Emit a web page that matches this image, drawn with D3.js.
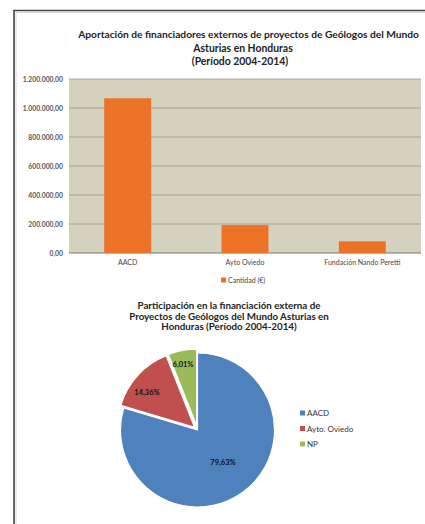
<!DOCTYPE html>
<html><head><meta charset="utf-8">
<script src="https://cdn.jsdelivr.net/npm/d3@7"></script>
<style>body{margin:0;background:#fff}svg{display:block}text{font-family:Lato,"Open Sans",sans-serif}</style>
</head><body>
<svg id="c" width="425" height="524"></svg>
<script>
const barCategories = ["AACD", "Ayto Oviedo", "Fundación Nando Peretti"];
const barValues = [1067000, 192400, 80500];
const yTicks = [0, 200000, 400000, 600000, 800000, 1000000, 1200000];
const yTickLabels = ["0,00","200.000,00","400.000,00","600.000,00","800.000,00","1.000.000,00","1.200.000,00"];
const barTitle = ["Aportación de financiadores externos de proyectos de Geólogos del Mundo","Asturias en Honduras","(Período 2004-2014)"];
const barLegend = "Cantidad (€)";
const pieCategories = ["AACD", "Ayto. Oviedo", "NP"];
const pieValues = [79.63, 14.36, 6.01];
const pieLabels = ["79,63%", "14,36%", "6,01%"];
const pieTitle = ["Participación en la financiación externa de","Proyectos de Geólogos del Mundo Asturias en","Honduras (Período 2004-2014)"];
const pieColors = ["#4F81BD", "#C0504D", "#9BBB59"];

const svg = d3.select("#c");
// frame
svg.append("path").attr("d","M14,524V10.5H425").attr("fill","none").attr("stroke","#444").attr("stroke-width",1.6);
svg.append("path").attr("d","M16,524V12.5H425").attr("fill","none").attr("stroke","#ccc").attr("stroke-width",0.8);

function sizeFor(text, target, weight){
  const p = svg.append("text").attr("font-size",10).attr("font-weight",weight).text(text);
  const w = p.node().getComputedTextLength(); p.remove();
  return 10 * target / w;
}

// bar title
const btY = [38, 51.5, 64.5];
const btX = [248.5, 243, 240];
const btSize = sizeFor(barTitle[0], 341, "bold");
barTitle.forEach((t,i)=>{
  svg.append("text").attr("x",btX[i]).attr("y",btY[i]).attr("text-anchor","middle")
    .attr("font-size", i ? btSize*1.02 : btSize).attr("font-weight","bold").attr("fill","#222").text(t);
});

// bar chart
const x = d3.scaleBand().domain(barCategories).range([69,421]).padding(0);
const y = d3.scaleLinear().domain([0,1200000]).range([253,79]);
const g = svg.append("g");
g.append("rect").attr("x",69).attr("y",y(1200000)).attr("width",352).attr("height",y(0)-y(1200000)).attr("fill","#D5D1BF");
g.selectAll("line.grid").data(yTicks.slice(1)).join("line").attr("class","grid")
  .attr("x1",69).attr("x2",421).attr("y1",d=>y(d)).attr("y2",d=>y(d)).attr("stroke","#9a978b").attr("stroke-width",0.8);
g.append("line").attr("x1",69).attr("x2",421).attr("y1",y(0)).attr("y2",y(0)).attr("stroke","#777").attr("stroke-width",1);
const bw = x.bandwidth()*0.4;
g.selectAll("rect.bar").data(barValues).join("rect").attr("class","bar")
  .attr("x",(d,i)=>x(barCategories[i])+x.bandwidth()/2-bw/2).attr("width",bw)
  .attr("y",d=>y(d)).attr("height",d=>y(0)-y(d)).attr("fill","#EC7228");
const yAxis = d3.axisLeft(y).tickValues(yTicks).tickFormat((d,i)=>yTickLabels[i]).tickSize(0).tickPadding(6);
const ya = svg.append("g").attr("transform","translate(69,0)").call(yAxis);
ya.select(".domain").remove();
ya.selectAll("text").attr("font-size",6.8).attr("font-weight","bold").attr("fill","#555").attr("font-family","Lato,sans-serif");
const xAxis = d3.axisBottom(x).tickSize(0).tickPadding(7);
const xa = svg.append("g").attr("transform",`translate(0,${y(0)})`).call(xAxis);
xa.select(".domain").remove();
xa.selectAll("text").attr("font-size",7).attr("fill","#444").attr("font-family","Lato,sans-serif");
// legend
svg.append("rect").attr("x",221).attr("y",277.5).attr("width",5).attr("height",5).attr("fill","#EC7228");
svg.append("text").attr("x",228).attr("y",283).attr("font-size",7).attr("fill","#444").text(barLegend);

// pie title
const ptY = [309, 319.5, 330];
const ptSize = sizeFor(pieTitle[1], 200, "bold");
pieTitle.forEach((t,i)=>{
  svg.append("text").attr("x",229).attr("y",ptY[i]).attr("text-anchor","middle")
    .attr("font-size",ptSize).attr("font-weight","bold").attr("fill","#222").text(t);
});

// pie
const cx = 197.5, cy = 430, r = 77;
const pie = d3.pie().sort(null).value(d=>d)(pieValues);
const arc = d3.arc().innerRadius(0).outerRadius(r);
const explode = [0, 4, 4];
const pg = svg.append("g").attr("transform",`translate(${cx},${cy})`);
pg.selectAll("path").data(pie).join("path")
  .attr("transform",(d,i)=>{const a=(d.startAngle+d.endAngle)/2; return `translate(${Math.sin(a)*explode[i]},${-Math.cos(a)*explode[i]})`;})
  .attr("d",arc).attr("fill",(d,i)=>pieColors[i]).attr("stroke","#fff").attr("stroke-width",1.2);
const labelPos = [[25.5,32],[-50.5,-38],[-14.5,-65.5]];
pg.selectAll("text.pl").data(pie).join("text").attr("class","pl")
  .attr("x",(d,i)=>labelPos[i][0]).attr("y",(d,i)=>labelPos[i][1]+2.5).attr("text-anchor","middle")
  .attr("font-size",7.5).attr("font-weight","bold").attr("fill","#111").text((d,i)=>pieLabels[i]);
// pie legend
const lg = svg.append("g");
pieCategories.forEach((c,i)=>{
  const yy = 413 + i*15.5;
  lg.append("rect").attr("x",300).attr("y",yy-2.5).attr("width",5).attr("height",5).attr("fill",pieColors[i]);
  lg.append("text").attr("x",307).attr("y",yy+3).attr("font-size",8).attr("fill","#333").text(c);
});
</script>
</body></html>
